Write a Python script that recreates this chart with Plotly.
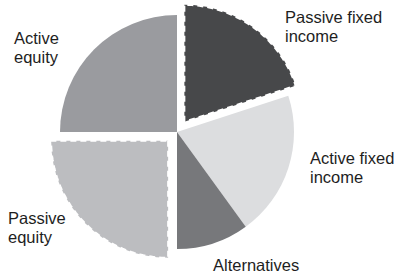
import numpy as np
import plotly.graph_objects as go

labels = ["Passive fixed income", "Active fixed income", "Alternatives", "Passive equity", "Active equity"]
values = [20, 20, 10, 25, 25]
colors = ["#47484a", "#dcdddf", "#77787b", "#bcbdc0", "#9a9b9f"]
pulled = [True, False, False, True, False]
label_lines = [["Passive fixed", "income"], ["Active fixed", "income"], ["Alternatives"],
               ["Passive", "equity"], ["Active", "equity"]]

W, H = 401, 277
CX, CY = 177, 132      # pie centre in pixels (from top-left)
R = 117                # radius in pixels
PULL = 0.107

dom = 2 * R * (1 + PULL)
fig = go.Figure()
fig.add_trace(go.Pie(
    labels=labels, values=values, sort=False, direction="clockwise", rotation=0,
    marker=dict(colors=colors, line=dict(width=0)),
    pull=[PULL if p else 0 for p in pulled],
    textinfo="none", hoverinfo="label+percent", showlegend=False,
    domain=dict(x=[(CX - dom / 2) / W, (CX + dom / 2) / W],
                y=[1 - (CY + dom / 2) / H, 1 - (CY - dom / 2) / H]),
))

# dashed white outlines for the pulled slices, computed from the values
total = sum(values)
shapes = []
cum = 0
px = lambda x: (CX + x) / W
py = lambda y: 1 - (CY + y) / H
for v, p in zip(values, pulled):
    a0 = cum / total * 2 * np.pi
    a1 = (cum + v) / total * 2 * np.pi
    cum += v
    if not p:
        continue
    mid = (a0 + a1) / 2
    ox = PULL * R * np.sin(mid)
    oy = -PULL * R * np.cos(mid)
    ang = np.linspace(a0, a1, 60)
    pts = [(ox, oy)] + [(ox + R * np.sin(a), oy - R * np.cos(a)) for a in ang]
    path = "M " + " L ".join(f"{px(x):.5f},{py(y):.5f}" for x, y in pts) + " Z"
    shapes.append(dict(type="path", path=path, xref="paper", yref="paper", layer="above",
                       line=dict(color="white", width=2, dash="6px,4px")))

# label anchor (left, top of first line) in pixels; line step in pixels
ann_pos = {
    "Passive fixed income": (283, 6),
    "Active fixed income": (308, 147),
    "Alternatives": (211, 254),
    "Passive equity": (6.3, 207),
    "Active equity": (12, 27.5),
}
STEP = 19
annotations = []
for lab, lines in zip(labels, label_lines):
    x, y = ann_pos[lab]
    for i, ln in enumerate(lines):
        annotations.append(dict(text=ln, x=x / W, y=1 - (y + i * STEP) / H, xref="paper", yref="paper",
                                xanchor="left", yanchor="top", showarrow=False, align="left",
                                font=dict(family="Liberation Sans", size=16.5, color="#1e1e1e")))

fig.update_layout(width=W, height=H, margin=dict(l=0, r=0, t=0, b=0),
                  paper_bgcolor="white", plot_bgcolor="white",
                  shapes=shapes, annotations=annotations, showlegend=False)
fig.write_html("out.html", config={"displayModeBar": False},
               post_script="document.body.style.margin='0px';")
